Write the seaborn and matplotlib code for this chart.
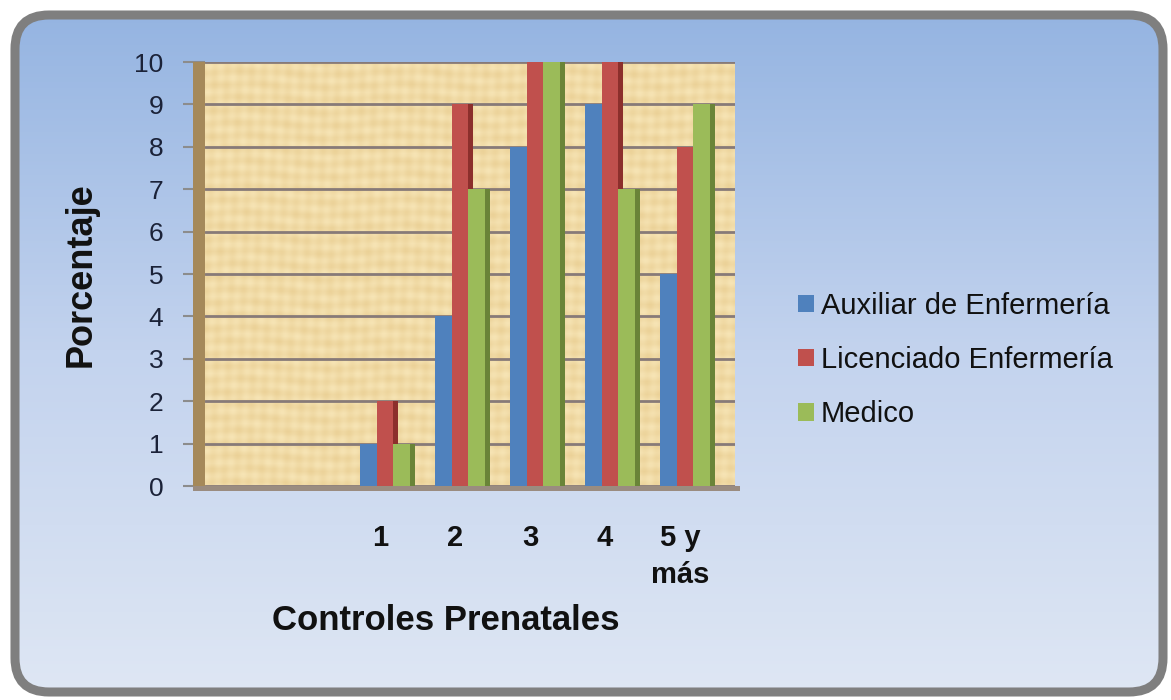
import numpy as np
import pandas as pd
import matplotlib
matplotlib.use("Agg")
import matplotlib.pyplot as plt
import seaborn as sns
from matplotlib.patches import FancyBboxPatch, Rectangle
from matplotlib.colors import LinearSegmentedColormap

# Data
categorias = ["", "", "1", "2", "3", "4", "5 y\nmás"]
auxiliar = [0, 0, 1, 4, 8, 9, 5]
licenciado = [0, 0, 2, 9, 10, 10, 8]
medico = [0, 0, 1, 7, 10, 7, 9]
series = ["Auxiliar de Enfermería", "Licenciado Enfermería", "Medico"]
y_ticks = list(range(0, 11))

colores = {"Auxiliar de Enfermería": "#4F81BD",
           "Licenciado Enfermería": "#C0504D",
           "Medico": "#9BBB59"}
laterales = {"Auxiliar de Enfermería": "#385D8A",
             "Licenciado Enfermería": "#8C2F2C",
             "Medico": "#6A8438"}

df = pd.DataFrame({
    "pos": list(range(len(categorias))) * 3,
    "valor": auxiliar + licenciado + medico,
    "perfil": np.repeat(series, len(categorias)),
})

sns.set_theme(style="white")
plt.rcParams["font.family"] = ["Liberation Sans", "DejaVu Sans"]

W, H = 1171, 700
fig = plt.figure(figsize=(W / 100, H / 100), dpi=100)
fig.patch.set_facecolor("white")

# Rounded panel with vertical gradient
bg = fig.add_axes([0, 0, 1, 1], zorder=-10)
bg.set_axis_off()
bg.set_xlim(0, W)
bg.set_ylim(0, H)
grad = np.linspace(0, 1, 256)[:, None]
cmap_bg = LinearSegmentedColormap.from_list("bg", ["#93B3E1", "#C3D3EE", "#DFE7F4"])
im = bg.imshow(grad, aspect="auto", cmap=cmap_bg, extent=[0, W, 0, H], origin="upper")
panel = FancyBboxPatch((15, 8), W - 23, H - 23,
                       boxstyle="round,pad=0,rounding_size=34",
                       facecolor="none", edgecolor="#7F7F7F", linewidth=6.5)
bg.add_patch(panel)
im.set_clip_path(panel)

# Plot area
ax = fig.add_axes([205 / W, 214 / H, 530 / W, 424 / H])
x0, x1 = -0.4, 6.667

sns.barplot(data=df, x="pos", y="valor", hue="perfil", order=range(len(categorias)),
            hue_order=series, palette=colores, width=0.667, saturation=1,
            ax=ax, zorder=3, edgecolor="none", linewidth=0)

# Parchment texture of the back wall
yy, xx = np.mgrid[0:160, 0:300]
tex = (0.5 + 0.18 * np.sin(yy * 1.3 + 0.8 * np.sin(xx * 0.07))
       + 0.12 * np.sin(xx * 0.9 + yy * 0.05) + 0.08 * np.cos(xx * 0.23 - yy * 0.6))
cmap_tex = LinearSegmentedColormap.from_list("tex", ["#EBD197", "#F7E5B6"])
ax.imshow(tex, extent=[x0, x1, 0, 10], aspect="auto", cmap=cmap_tex, zorder=0,
          interpolation="bilinear")

# Dark right-hand side of each bar for a 3D look
side_w = 5 / 75
for cont, nombre in zip(ax.containers, series):
    for bar in cont:
        h = bar.get_height()
        if h > 0:
            ax.add_patch(Rectangle((bar.get_x() + bar.get_width(), 0), side_w, h,
                                   facecolor=laterales[nombre], edgecolor="none",
                                   zorder=2.5))

ax.set_xlim(x0, x1)
ax.set_ylim(0, 10)
ax.set_yticks(y_ticks)
ax.set_yticklabels([str(v) for v in y_ticks])
# labels sit slightly left of the group centres (front face of the 3D bars)
ax.set_xticks(np.arange(len(categorias)) - 5 / 75)
ax.set_xticklabels(categorias, fontsize=21, fontweight="bold", color="#111111",
                   linespacing=1.45)
ax.yaxis.grid(True, color="#877A78", linewidth=2)
ax.set_axisbelow(True)
for s in ax.spines.values():
    s.set_visible(False)
ax.tick_params(axis="y", length=16, width=1.5, color="#8C8C8C", pad=14,
               labelsize=19, labelcolor="#1B2238", left=True)
ax.tick_params(axis="x", length=0, pad=27)
ax.set_xlabel("")
ax.set_ylabel("")

# Side wall and floor
ax.add_patch(Rectangle((-12 / 530, -5 / 424), 12 / 530, 1 + 5 / 424,
                       transform=ax.transAxes, facecolor="#A5895A",
                       edgecolor="none", clip_on=False, zorder=4))
ax.add_patch(Rectangle((-12 / 530, -5 / 424), 1 + 17 / 530, 5 / 424,
                       transform=ax.transAxes, facecolor="#9A8C80",
                       edgecolor="none", clip_on=False, zorder=4))

# Legend
handles, labels = ax.get_legend_handles_labels()
if ax.get_legend() is not None:
    ax.get_legend().remove()
fig.legend(handles, labels, loc="center left", bbox_to_anchor=(786 / W, 1 - 360 / H),
           frameon=False, fontsize=21, handlelength=0.55, handleheight=0.55,
           handletextpad=0.25, labelspacing=0.9, borderaxespad=0,
           labelcolor="#111111")

# Axis titles
fig.text(81 / W, 1 - 275 / H, "Porcentaje", rotation=90, ha="center", va="center",
         fontsize=26, fontweight="bold", color="#111111")
fig.text(446 / W, 1 - 620 / H, "Controles Prenatales", ha="center", va="center",
         fontsize=25, fontweight="bold", color="#111111")

fig.savefig("out.png", dpi=100)
